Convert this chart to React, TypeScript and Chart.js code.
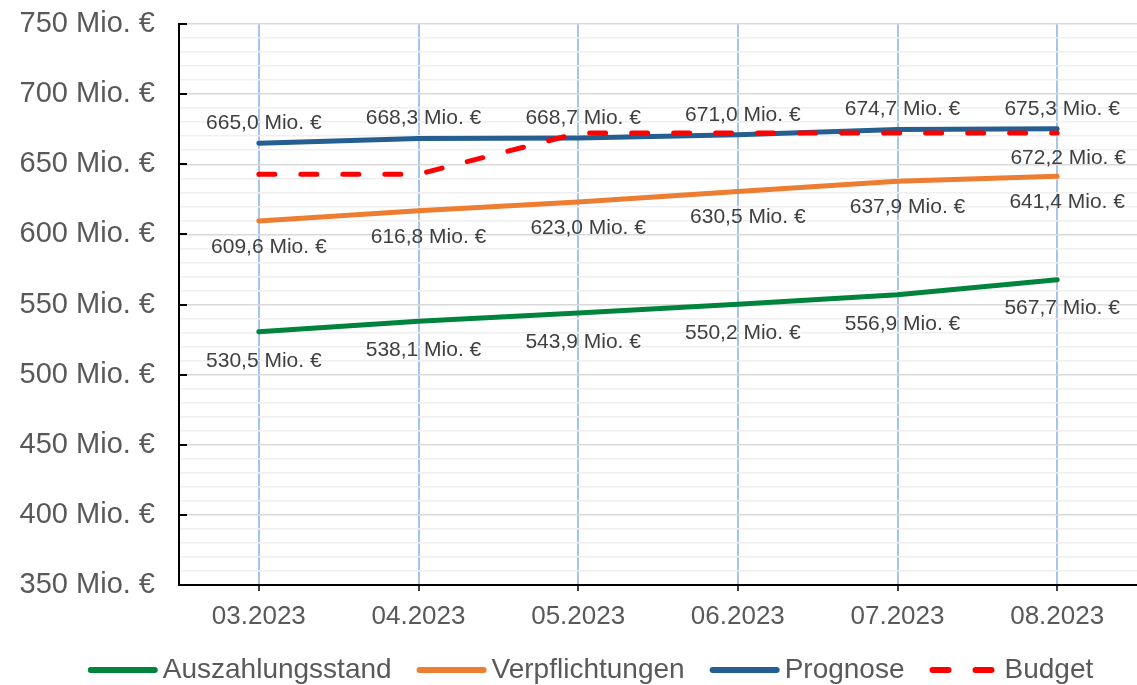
import React, { useEffect, useRef } from 'react';
import { Chart, registerables } from 'chart.js';

Chart.register(...registerables);

const categories = ['03.2023', '04.2023', '05.2023', '06.2023', '07.2023', '08.2023'];
const auszahlungsstand = [530.5, 538.1, 543.9, 550.2, 556.9, 567.7];
const verpflichtungen = [609.6, 616.8, 623.0, 630.5, 637.9, 641.4];
const prognose = [665.0, 668.3, 668.7, 671.0, 674.7, 675.3];
const budget = [642.9, 642.9, 672.2, 672.2, 672.2, 672.2];
const yMin = 350;
const yMax = 750;
const yMajorStep = 50;
const yMinorStep = 10;

const FONT = '"Liberation Sans", Arial, sans-serif';
const fmt = (v: number) => v.toFixed(1).replace('.', ',') + ' Mio. €';

const valueLabels = {
  id: 'valueLabels',
  afterDatasetsDraw(chart: any) {
    const ctx = chart.ctx;
    ctx.save();
    ctx.font = `21px ${FONT}`;
    ctx.fillStyle = '#404040';
    ctx.textAlign = 'center';
    ctx.textBaseline = 'middle';
    chart.data.datasets.forEach((ds: any, i: number) => {
      const opt = ds.labelOpts;
      if (!opt) return;
      const meta = chart.getDatasetMeta(i);
      meta.data.forEach((pt: any, j: number) => {
        if (opt.lastOnly && j !== meta.data.length - 1) return;
        ctx.fillText(fmt(ds.data[j]), pt.x + opt.dx, pt.y + opt.dy);
      });
    });
    ctx.restore();
  },
};

// inward tick marks on the value axis at the major steps
const innerTicks = {
  id: 'innerTicks',
  afterDraw(chart: any) {
    const ctx = chart.ctx;
    const y = chart.scales.y;
    const left = chart.chartArea.left;
    ctx.save();
    ctx.strokeStyle = '#000000';
    ctx.lineWidth = 2;
    for (let v = yMin; v <= yMax; v += yMajorStep) {
      const py = Math.round(y.getPixelForValue(v));
      ctx.beginPath();
      ctx.moveTo(left, py);
      ctx.lineTo(left + 8, py);
      ctx.stroke();
    }
    ctx.restore();
  },
};

const customLegend = {
  id: 'customLegend',
  afterDraw(chart: any) {
    const ctx = chart.ctx;
    const lineLen = 64;
    const cap = 3;
    const gapText = 5 + cap;
    const itemGap = 22 + cap;
    ctx.save();
    ctx.font = `28px ${FONT}`;
    ctx.textBaseline = 'middle';
    ctx.textAlign = 'left';
    const items = chart.data.datasets.map((ds: any) => ({
      text: ds.label,
      color: ds.borderColor,
      dash: ds.legendDash || [],
      w: ctx.measureText(ds.label).width,
    }));
    const total =
      items.reduce((s: number, it: any) => s + cap + lineLen + gapText + it.w, 0) + itemGap * (items.length - 1);
    let x = chart.width / 2 + 22 - total / 2;
    const yc = chart.chartArea.bottom + 85;
    items.forEach((it: any) => {
      x += cap;
      ctx.beginPath();
      ctx.setLineDash(it.dash);
      ctx.lineCap = 'round';
      ctx.lineWidth = 6;
      ctx.strokeStyle = it.color;
      ctx.moveTo(x, yc);
      ctx.lineTo(x + lineLen, yc);
      ctx.stroke();
      ctx.setLineDash([]);
      x += lineLen + gapText;
      ctx.fillStyle = '#595959';
      ctx.fillText(it.text, x, yc);
      x += it.w + itemGap;
    });
    ctx.restore();
  },
};

export default function App() {
  const ref = useRef<HTMLCanvasElement>(null);
  useEffect(() => {
    if (!ref.current) return;
    const base = {
      borderWidth: 5,
      borderCapStyle: 'round',
      pointRadius: 0,
      pointHoverRadius: 0,
      tension: 0,
    };
    const chart = new Chart(ref.current, {
      type: 'line',
      data: {
        labels: categories,
        datasets: [
          {
            ...base,
            label: 'Auszahlungsstand',
            data: auszahlungsstand,
            borderColor: '#00843d',
            backgroundColor: '#00843d',
            order: 1,
            labelOpts: { dx: 5, dy: 29 },
          } as any,
          {
            ...base,
            label: 'Verpflichtungen',
            data: verpflichtungen,
            borderColor: '#ed7d31',
            backgroundColor: '#ed7d31',
            order: 1,
            labelOpts: { dx: 10, dy: 26 },
          } as any,
          {
            ...base,
            label: 'Prognose',
            data: prognose,
            borderColor: '#255e91',
            backgroundColor: '#255e91',
            order: 1,
            labelOpts: { dx: 5, dy: -20 },
          } as any,
          {
            ...base,
            label: 'Budget',
            data: budget,
            borderColor: '#ff0000',
            backgroundColor: '#ff0000',
            borderDash: [16, 26],
            legendDash: [16, 27],
            order: 0,
            labelOpts: { dx: 11, dy: 25, lastOnly: true },
          } as any,
        ],
      },
      options: {
        animation: false,
        responsive: false,
        maintainAspectRatio: false,
        layout: { padding: { top: 24, left: 0, right: 0, bottom: 45 } },
        plugins: {
          tooltip: { enabled: false },
          legend: { display: false },
        },
        scales: {
          x: {
            offset: true,
            grid: {
              offset: false,
              color: '#a4c6ea',
              lineWidth: 2,
              tickColor: '#404040',
              tickLength: 6,
            },
            border: { color: '#000000', width: 2 },
            ticks: {
              color: '#595959',
              font: { family: FONT, size: 26 },
              padding: 10,
              maxRotation: 0,
            },
            afterFit: (s: any) => {
              s.height = 55;
              s.paddingLeft = 0;
              s.paddingRight = 0;
            },
          },
          y: {
            min: yMin,
            max: yMax,
            grid: {
              color: (c: any) => (c.tick && c.tick.value % yMajorStep === 0 ? '#d9d9d9' : '#efefef'),
              lineWidth: 1.5,
              drawTicks: false,
            },
            border: { color: '#000000', width: 2 },
            ticks: {
              stepSize: yMinorStep,
              autoSkip: false,
              color: '#595959',
              font: { family: FONT, size: 29 },
              padding: 24,
              callback: (v: any) => (Number(v) % yMajorStep === 0 ? `${v} Mio. €` : ''),
            },
            afterFit: (s: any) => {
              s.width = 179;
              s.paddingTop = 0;
              s.paddingBottom = 0;
            },
          },
        },
      } as any,
      plugins: [valueLabels, innerTicks, customLegend],
    });
    return () => chart.destroy();
  }, []);
  return (
    <div style={{ position: 'fixed', left: 0, top: 0, width: 1137, height: 685, background: '#fff' }}>
      <canvas ref={ref} width={1137} height={685} style={{ width: 1137, height: 685 }} />
    </div>
  );
}
